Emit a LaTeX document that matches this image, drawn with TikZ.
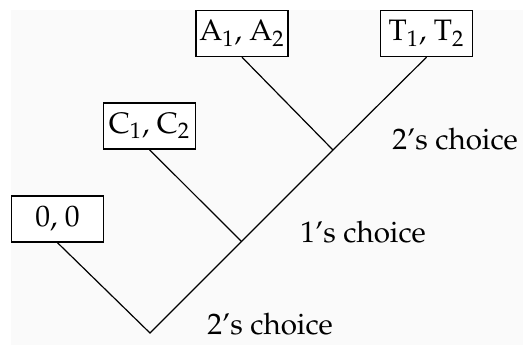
\documentclass[tikz,border=0pt]{standalone}
\usepackage[T1]{fontenc}
\usepackage{mathpazo}
\definecolor{bgpaper}{RGB}{250,250,250}
\tikzset{
  payoff/.style={draw, line width=0.7pt, fill=white, minimum width=46pt, minimum height=23pt, inner sep=0pt, font=\fontsize{14.8}{16}\selectfont},
  branch/.style={line width=0.6pt},
  choicelabel/.style={anchor=base west, inner sep=0pt, font=\fontsize{14.8}{16}\selectfont}
}
\begin{document}
\begin{tikzpicture}[x=0.5pt,y=-0.5pt]
\useasboundingbox (0,0) rectangle (523,345);
\fill[bgpaper] (11,10) rectangle (523,345);
\node[payoff] (A) at (242,33.5) {A$_1$, A$_2$};
\node[payoff] (T) at (426.5,33.5) {T$_1$, T$_2$};
\node[payoff] (C) at (149.5,126) {C$_1$, C$_2$};
\node[payoff] (Z) at (57.5,219) {0, 0};
\coordinate (root) at (150,333);
\coordinate (n1) at (241.5,241.5);
\coordinate (n2) at (333,150);
\draw[branch] (Z.south) -- (root) -- (n1) -- (n2) -- (T.south);
\draw[branch] (C.south) -- (n1);
\draw[branch] (A.south) -- (n2);
\node[choicelabel] (l0) at (207,334) {2's choice};
\node[choicelabel] (l1) at (300,242) {1's choice};
\node[choicelabel] (l2) at (392,149) {2's choice};
\end{tikzpicture}
\end{document}
